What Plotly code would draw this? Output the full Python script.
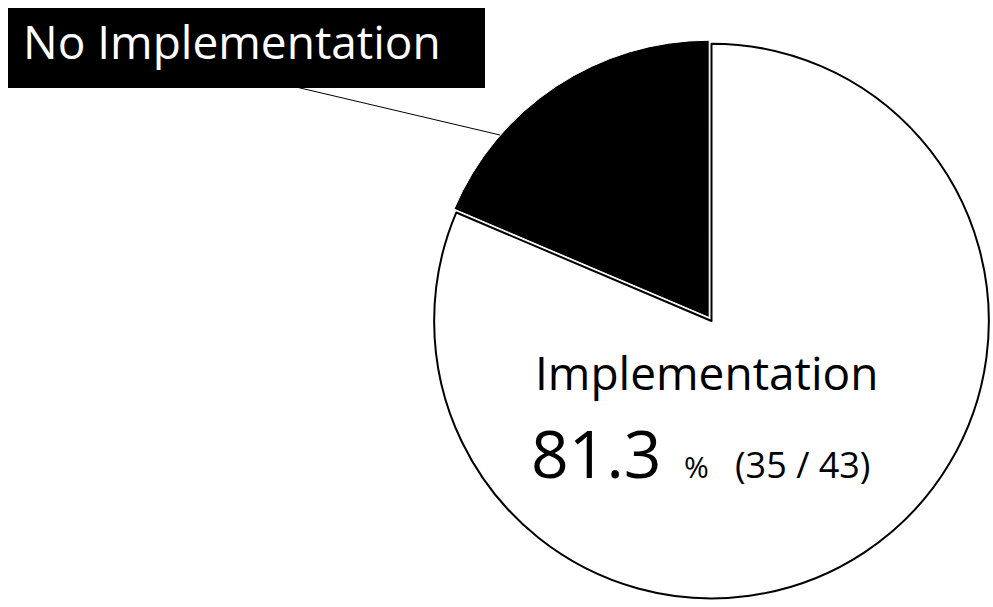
import plotly.graph_objects as go

labels = ["Implementation", "No Implementation"]
values = [35, 8]
colors = ["white", "black"]
pct_text = "81.3"
pct_sign = "%"
count_text = "(35 / 43)"

W, H = 993, 607
FONT = "Open Sans"

def px(x):
    return x / W

def py(y):
    return 1 - y / H

R = 281.5
fig = go.Figure(go.Pie(
    labels=labels, values=values, sort=False, direction="clockwise",
    rotation=0, textinfo="none", hoverinfo="label+value",
    marker=dict(colors=colors, line=dict(color=["black", "white"], width=[2, 1])),
    pull=[0, 0.015],
    domain=dict(x=[px(711.5 - R), 1], y=[py(321 + R), py(321 - R)]),
    showlegend=False,
))

fig.add_shape(type="rect", xref="paper", yref="paper",
              x0=px(8), x1=px(485), y0=py(88), y1=py(8),
              fillcolor="black", line=dict(width=0), layer="above")
fig.add_shape(type="line", xref="paper", yref="paper",
              x0=px(296), y0=py(87), x1=px(500), y1=py(135),
              line=dict(color="black", width=1))
fig.add_annotation(text=labels[1], x=px(21), y=py(41), xref="paper", yref="paper",
                   xanchor="left", yanchor="middle", showarrow=False,
                   font=dict(family=FONT, size=46, color="white"))
fig.add_annotation(text=labels[0], x=px(533), y=py(372), xref="paper", yref="paper",
                   xanchor="left", yanchor="middle", showarrow=False,
                   font=dict(family=FONT, size=46, color="black"))
fig.add_annotation(text=pct_text, x=px(529), y=py(452), xref="paper", yref="paper",
                   xanchor="left", yanchor="middle", showarrow=False,
                   font=dict(family=FONT, size=66, color="black"))
fig.add_annotation(text=pct_sign, x=px(682), y=py(466), xref="paper", yref="paper",
                   xanchor="left", yanchor="middle", showarrow=False,
                   font=dict(family=FONT, size=30, color="black"))
fig.add_annotation(text=count_text, x=px(733), y=py(464), xref="paper", yref="paper",
                   xanchor="left", yanchor="middle", showarrow=False,
                   font=dict(family=FONT, size=36, color="black"))

fig.update_layout(width=W, height=H, margin=dict(l=0, r=0, t=0, b=0),
                  paper_bgcolor="white", plot_bgcolor="white")
fig.write_html("out.html")
